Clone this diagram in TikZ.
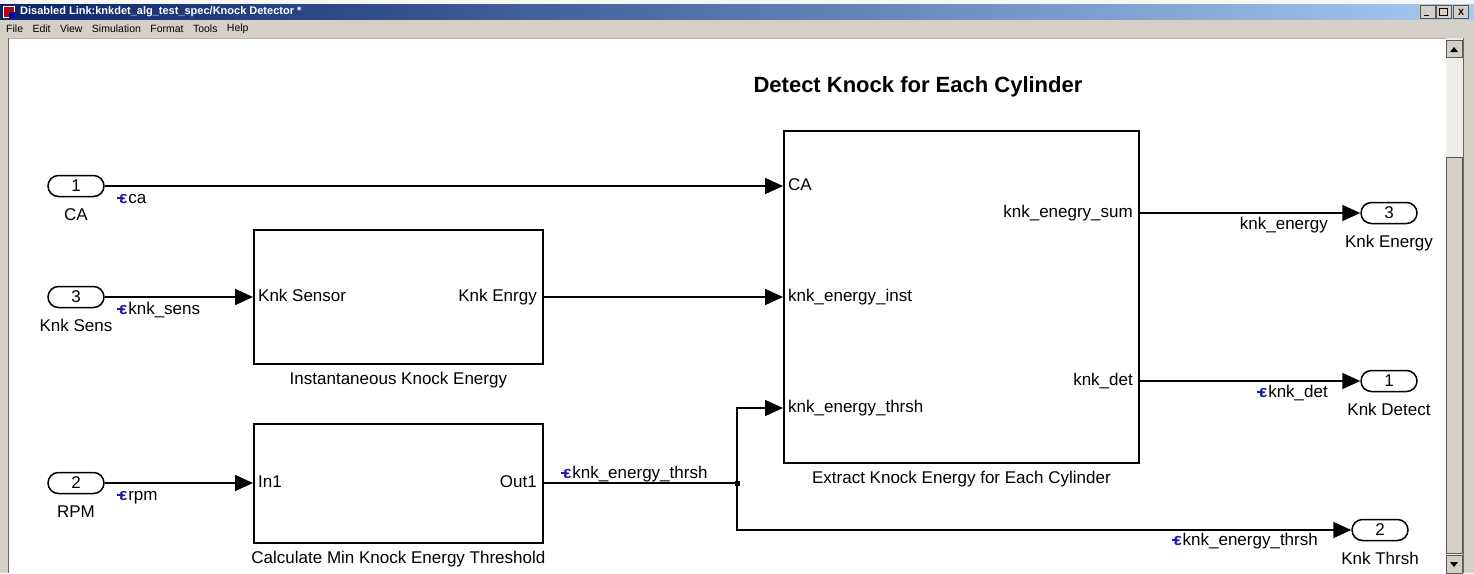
\documentclass[tikz,border=0pt]{standalone}
\usepackage{fontspec}
\setmainfont{Liberation Sans}
\usetikzlibrary{positioning,calc,arrows.meta}

\definecolor{winbar}{HTML}{D4D0C8}
\definecolor{titledark}{HTML}{0A246A}
\definecolor{titlelight}{HTML}{A6CAF0}
\definecolor{sigblue}{HTML}{1C1CA8}
\definecolor{track}{HTML}{EEEDE9}

\newcommand{\lbfont}{\fontsize{17}{20}\selectfont}
\newcommand{\hdfont}{\fontsize{22}{26}\selectfont\bfseries}
\newcommand{\winfont}{\fontsize{11}{12}\selectfont\bfseries}
\newcommand{\menufont}{\fontsize{10.5}{12}\selectfont}
\newcommand{\sigmark}{{\color{sigblue}\rule[0.27em]{0.3em}{0.09em}\kern-0.17em\textbf{ε}}\kern0.05em}

\begin{document}
\begin{tikzpicture}[x=1pt,y=-1pt,
  blk/.style={draw,line width=1.8pt,anchor=north west,inner sep=0pt},
  port/.style={draw,line width=1.5pt,rounded corners=10.5pt,minimum width=56pt,minimum height=21pt,inner sep=0pt,font=\lbfont},
  lbl/.style={font=\lbfont,inner sep=1pt,text height=12.5pt,text depth=3.5pt},
  pin/.style={lbl,anchor=west,inner xsep=5pt},
  pout/.style={lbl,anchor=east,inner xsep=5pt},
  wire/.style={line width=1.8pt},
  wirea/.style={wire,-{Triangle[length=18pt,width=16pt]}},
  menu/.style={font=\menufont,inner sep=0pt},
  btn/.style={draw=gray!70!black,fill=winbar,line width=0.6pt,minimum width=15pt,minimum height=13pt,inner sep=0pt}]
\useasboundingbox (0,0) rectangle (1474,573);

% window frame
\fill[white!93!gray] (0,0) rectangle (1474,4);
\shade[left color=titledark,right color=titlelight] (0,4) rectangle (1474,20);
\node[fill=red!75!black,draw=white,line width=0.6pt,minimum size=11pt,inner sep=0pt] (ico) at (9,12) {};
\fill[blue!70!black] (ico.center) rectangle (ico.south east);
\node[anchor=west,text=white,font=\winfont,inner sep=0pt] (wtitle) at (20,12) {Disabled Link:knkdet\_alg\_test\_spec/Knock Detector *};
\node[btn] (bMin) at (1428,12) {};
\node[btn,right=0pt of bMin] (bMax) {};
\node[btn,right=2pt of bMax] (bClose) {\fontsize{9}{9}\selectfont\bfseries X};
\draw[line width=1.2pt] ($(bMin.south west)+(4,-3)$) -- ($(bMin.south west)+(9,-3)$);
\draw[line width=0.8pt] ($(bMax.south west)+(4,-3)$) rectangle ($(bMax.north east)+(-4,3)$);

\fill[winbar] (0,20) rectangle (1474,38);
\node[menu,anchor=west] (mFile) at (6,29) {File};
\node[menu,right=9pt of mFile] (mEdit) {Edit};
\node[menu,right=9pt of mEdit] (mView) {View};
\node[menu,right=9pt of mView] (mSim) {Simulation};
\node[menu,right=9pt of mSim] (mFormat) {Format};
\node[menu,right=9pt of mFormat] (mTools) {Tools};
\node[menu,right=9pt of mTools] (mHelp) {Help};

\fill[winbar] (0,38) rectangle (9,573);
\draw[gray!80!black,line width=1pt] (8,38) -- (8,573);
\fill[white] (9,38) rectangle (1446,573);
\draw[gray!60,line width=0.6pt] (9,38.5) -- (1446,38.5);
% scroll bar
\fill[track] (1446,38) rectangle (1463,573);
\draw[fill=winbar,draw=gray!70!black,line width=0.6pt] (1446.5,40) rectangle (1462.5,57);
\fill (1450,52) -- (1458,52) -- (1454,47) -- cycle;
\draw[fill=winbar,draw=gray!70!black,line width=0.6pt] (1446.5,157) rectangle (1462.5,553);
\draw[fill=winbar,draw=gray!70!black,line width=0.6pt] (1446.5,555) rectangle (1462.5,573);
\fill (1450,562) -- (1458,562) -- (1454,567) -- cycle;
\fill[winbar] (1463,38) rectangle (1474,573);
\draw[gray!80!black,line width=1pt] (1463.5,38) -- (1463.5,573);

% heading
\node[font=\hdfont,inner sep=0pt] (head) at (918,87) {Detect Knock for Each Cylinder};

% blocks
\node[blk,minimum width=355pt,minimum height=332pt] (ext) at (783,130) {};
\node[blk,minimum width=289pt,minimum height=134pt] (inst) at (253,229) {};
\node[blk,minimum width=289pt,minimum height=119pt] (calc) at (253,423) {};
\node[lbl,below=6pt of ext] (extCap) {Extract Knock Energy for Each Cylinder};
\node[lbl,below=6pt of inst] (instCap) {Instantaneous Knock Energy};
\node[lbl,below=6pt of calc] (calcCap) {Calculate Min Knock Energy Threshold};

% block ports
\node[pin] (eCA) at (783,186) {CA};
\node[pin] (eInst) at (783,297) {knk\_energy\_inst};
\node[pin] (eThr) at (783,408) {knk\_energy\_thrsh};
\node[pout] (eSum) at (1138,213) {knk\_enegry\_sum};
\node[pout] (eDet) at (1138,381) {knk\_det};
\node[pin] (iSens) at (253,297) {Knk Sensor};
\node[pout] (iEn) at (542,297) {Knk Enrgy};
\node[pin] (cIn) at (253,483) {In1};
\node[pout] (cOut) at (542,483) {Out1};

% inports and outports
\node[port] (inCA) at (76,186) {1};
\node[port] (inSens) at (76,297) {3};
\node[port] (inRPM) at (76,483) {2};
\node[port] (outEn) at (1389,213) {3};
\node[port] (outDet) at (1389,381) {1};
\node[port] (outThr) at (1380,530) {2};
\node[lbl,below=10pt of inCA] (inCAn) {CA};
\node[lbl,below=10pt of inSens] (inSensn) {Knk Sens};
\node[lbl,below=10pt of inRPM] (inRPMn) {RPM};
\node[lbl,below=10pt of outEn] (outEnn) {Knk Energy};
\node[lbl,below=10pt of outDet] (outDetn) {Knk Detect};
\node[lbl,below=10pt of outThr] (outThrn) {Knk Thrsh};

% signal names
\node[lbl,anchor=west] (sCA) at (116,199) {\sigmark ca};
\node[lbl,anchor=west] (sSens) at (116,310) {\sigmark knk\_sens};
\node[lbl,anchor=west] (sRPM) at (116,496) {\sigmark rpm};
\node[lbl,anchor=west] (sThrA) at (560,474) {\sigmark knk\_energy\_thrsh};
\node[lbl,anchor=east] (sEn) at (1329,225) {knk\_energy};
\node[lbl,anchor=east] (sDet) at (1329,393) {\sigmark knk\_det};
\node[lbl,anchor=east] (sThrB) at (1319,541) {\sigmark knk\_energy\_thrsh};

% lines
\coordinate (jn) at (737,483);
\draw[wirea] (inCA) -- (eCA.west);
\draw[wirea] (inSens) -- (iSens.west);
\draw[wirea] (iEn.east) -- (eInst.west);
\draw[wirea] (inRPM) -- (cIn.west);
\draw[wire] (cOut.east) -- (jn);
\draw[wirea] (jn) |- (eThr.west);
\draw[wirea] (jn) |- (outThr.west);
\draw[wirea] (eSum.east) -- (outEn.west);
\draw[wirea] (eDet.east) -- (outDet.west);
\fill ($(jn)+(-2.5,-2.5)$) rectangle ($(jn)+(2.5,2.5)$);
\end{tikzpicture}
\end{document}
